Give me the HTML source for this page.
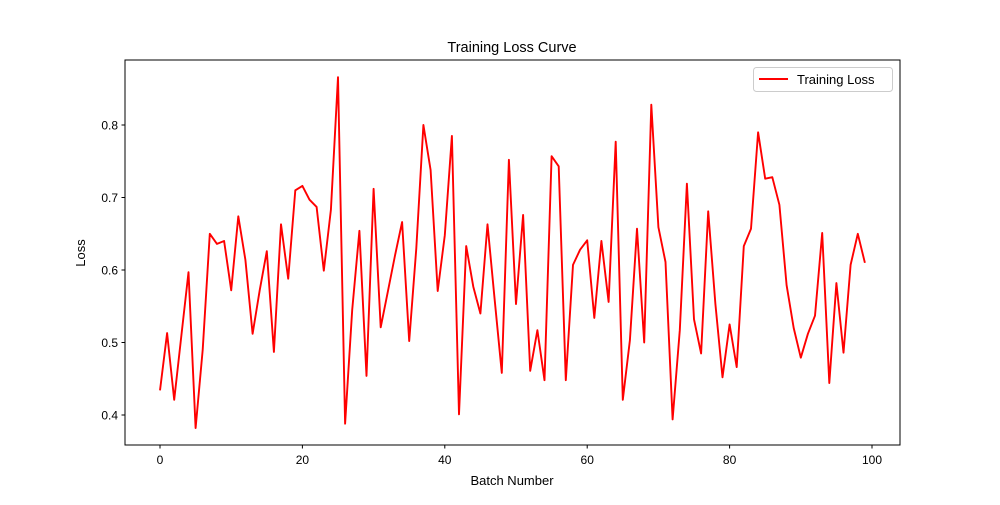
<!DOCTYPE html>
<html><head><meta charset="utf-8"><style>
body{margin:0;background:#fff;}
svg text{font-family:"Liberation Sans","DejaVu Sans",sans-serif;fill:#000;}
</style></head><body>
<svg id="chart" width="1000" height="500" viewBox="0 0 1000 500">
<rect width="1000" height="500" fill="#fff"/>
<text x="512" y="52" font-size="14.5" text-anchor="middle">Training Loss Curve</text>
<g id="xticks"></g>
<g id="yticks"></g>
<path id="line" fill="none" stroke="#ff0000" stroke-width="1.9" stroke-linejoin="round"/>
<rect x="125" y="60" width="775" height="385" fill="none" stroke="#000" stroke-width="1"/>
<text x="512" y="485" font-size="13" text-anchor="middle">Batch Number</text>
<text x="85" y="253" font-size="13" text-anchor="middle" transform="rotate(-90 85 253)">Loss</text>
<g>
<rect x="753.5" y="67.5" width="139" height="24" rx="3" fill="#fff" stroke="#ccc"/>
<line x1="759" y1="79" x2="788" y2="79" stroke="#ff0000" stroke-width="1.9"/>
<text x="797" y="84" font-size="13">Training Loss</text>
</g>
</svg>
<script>
const losses=[0.434,0.513,0.421,0.51,0.597,0.382,0.49,0.65,0.636,0.64,0.572,0.674,0.614,0.512,0.572,0.626,0.487,0.663,0.588,0.71,0.716,0.697,0.687,0.599,0.683,0.866,0.388,0.545,0.654,0.454,0.712,0.521,0.57,0.62,0.666,0.502,0.63,0.8,0.738,0.571,0.648,0.785,0.401,0.633,0.577,0.54,0.663,0.56,0.458,0.752,0.553,0.676,0.461,0.517,0.448,0.757,0.743,0.448,0.607,0.628,0.641,0.534,0.64,0.556,0.777,0.421,0.503,0.657,0.5,0.828,0.659,0.611,0.394,0.517,0.719,0.532,0.485,0.681,0.553,0.452,0.525,0.466,0.633,0.657,0.79,0.726,0.728,0.69,0.579,0.52,0.479,0.512,0.537,0.651,0.444,0.582,0.486,0.607,0.65,0.61];
const xTickValues=[0,20,40,60,80,100];
const yTickValues=[0.4,0.5,0.6,0.7,0.8];
const yTickLabels=["0.4","0.5","0.6","0.7","0.8"];
const X=v=>160+v*7.12;
const Y=v=>415-(v-0.4)*725;
const NS="http://www.w3.org/2000/svg";
const xg=document.getElementById('xticks'),yg=document.getElementById('yticks');
xTickValues.forEach(v=>{
 const l=document.createElementNS(NS,'line');
 l.setAttribute('x1',X(v));l.setAttribute('x2',X(v));l.setAttribute('y1',445);l.setAttribute('y2',448.5);l.setAttribute('stroke','#000');
 
 
 xg.appendChild(l);
 const t=document.createElementNS(NS,'text');
 t.setAttribute('x',X(v));t.setAttribute('y',464);t.setAttribute('font-size','12');t.setAttribute('text-anchor','middle');t.textContent=v;
 
 
 xg.appendChild(t);
});
yTickValues.forEach((v,i)=>{
 const l=document.createElementNS(NS,'line');
 l.setAttribute('x1',121.5);l.setAttribute('x2',125);l.setAttribute('y1',Y(v));l.setAttribute('y2',Y(v));l.setAttribute('stroke','#000');
 
 
 yg.appendChild(l);
 const t=document.createElementNS(NS,'text');
 t.setAttribute('x',118);t.setAttribute('y',Y(v)+4.5);t.setAttribute('font-size','12');t.setAttribute('text-anchor','end');t.textContent=yTickLabels[i];
 
 
 yg.appendChild(t);
});
document.getElementById('line').setAttribute('d',losses.map((v,i)=>(i?'L':'M')+X(i).toFixed(1)+' '+Y(v).toFixed(1)).join(' '));
</script>
</body></html>
